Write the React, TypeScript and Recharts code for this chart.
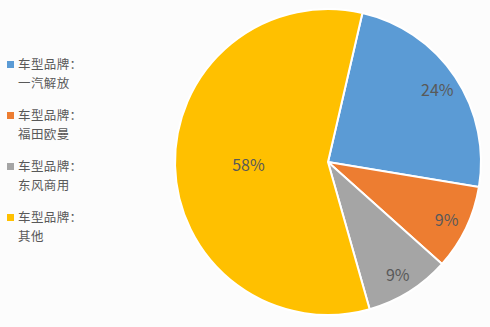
import React from 'react';
import { PieChart, Pie, Cell } from 'recharts';

const brands = ['一汽解放', '福田欧曼', '东风商用', '其他'];
const shares = [24, 9, 9, 58];
const COLORS = ['#5B9BD5', '#ED7D31', '#A5A5A5', '#FFC000'];

const data = brands.map((b, i) => ({ name: `车型品牌：${b}`, brand: b, value: shares[i] }));

const FONT = '"Noto Sans CJK SC", "Noto Sans", sans-serif';
const RAD = Math.PI / 180;

const renderLabel = (props: any) => {
  const { cx, cy, midAngle, outerRadius, value } = props;
  const k = value > 50 ? 0.52 : 0.86;
  const r = outerRadius * k;
  const x = cx + r * Math.cos(-midAngle * RAD);
  const y = cy + r * Math.sin(-midAngle * RAD);
  return (
    <text x={x} y={y} fill="#595959" fontSize={16} fontFamily={FONT}
      textAnchor="middle" dominantBaseline="central">
      {`${value}%`}
    </text>
  );
};

const LegendBox = () => (
  <div style={{ position: 'absolute', left: 7, top: 55, fontFamily: FONT, fontSize: 12.5, color: '#595959', lineHeight: '18.5px' }}>
    {brands.map((b, i) => (
      <div key={b} style={{ display: 'flex', alignItems: 'flex-start', marginBottom: 14 }}>
        <span style={{ width: 7, height: 7, background: COLORS[i], marginTop: 6, marginRight: 4, flex: 'none' }} />
        <div style={{ letterSpacing: 0.4 }}>
          <div>车型品牌：</div>
          <div>{b}</div>
        </div>
      </div>
    ))}
  </div>
);

const App = () => {
  return (
    <div style={{ position: 'fixed', left: 0, top: 0, width: 490, height: 327, background: '#fcfcfc' }}>
      <PieChart width={490} height={327} margin={{ top: 0, right: 0, bottom: 0, left: 0 }}>
        <Pie
          data={data}
          dataKey="value"
          cx={328}
          cy={162}
          outerRadius={153}
          startAngle={77}
          endAngle={-283}
          stroke="#ffffff"
          strokeWidth={2}
          label={renderLabel}
          labelLine={false}
          isAnimationActive={false}
        >
          {data.map((entry, index) => (
            <Cell key={`cell-${index}`} fill={COLORS[index % COLORS.length]} />
          ))}
        </Pie>
      </PieChart>
      <LegendBox />
    </div>
  );
};

export default App;
